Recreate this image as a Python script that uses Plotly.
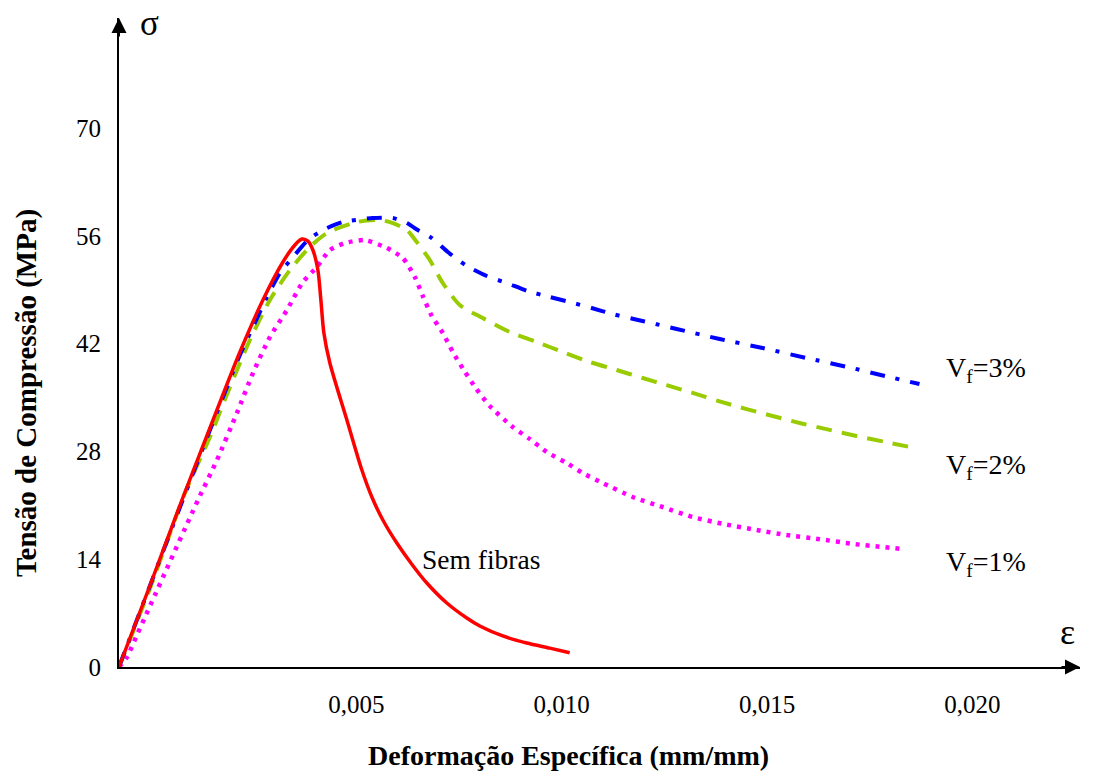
import plotly.graph_objects as go

# ---- data (strain in mm/mm, stress in MPa) ----
sem_x = [-0.00078, -0.00002, 0.000754, 0.001435, 0.002165, 0.002725, 0.003212, 0.003504,
         0.003674, 0.00382, 0.003941, 0.004063, 0.004136, 0.004209, 0.004355, 0.004769,
         0.005134, 0.005377, 0.005645, 0.005985, 0.00635, 0.006715, 0.007202, 0.007688,
         0.008005, 0.008564, 0.009148, 0.009708, 0.010194]
sem_y = [0, 10.65, 21.69, 31.04, 40.91, 47.66, 52.60, 54.81,
         55.58, 55.32, 54.16, 51.56, 47.66, 43.38, 39.48, 32.08,
         25.58, 22.08, 19.09, 16.10, 13.35, 10.91, 8.31, 6.36,
         5.32, 4.03, 3.12, 2.45, 1.85]

vf3_x = [-0.00078, 0.000754, 0.001435, 0.002165, 0.002482, 0.002822, 0.003139, 0.003479,
         0.00382, 0.004185, 0.004671, 0.005401, 0.005888, 0.006228, 0.006496, 0.006837,
         0.007226, 0.007688, 0.008175, 0.008661, 0.009172, 0.009708, 0.010194, 0.010729,
         0.011241, 0.011751, 0.012287, 0.012798, 0.013844, 0.01489, 0.01596, 0.016958,
         0.01798, 0.01871]
vf3_y = [0, 21.43, 30.78, 40.52, 44.16, 48.05, 51.17, 53.38,
         55.45, 56.75, 57.79, 58.31, 58.31, 57.66, 56.75, 55.71,
         53.90, 52.08, 50.78, 49.87, 48.83, 48.05, 47.40, 46.62,
         45.84, 45.19, 44.55, 43.90, 42.60, 41.43, 40.13, 38.96,
         37.66, 36.75]

vf2_x = [-0.00078, -0.00002, 0.000827, 0.001435, 0.001922, 0.002409, 0.002895, 0.003382,
         0.003868, 0.004282, 0.005012, 0.005572, 0.005888, 0.006228, 0.006472, 0.006788,
         0.007104, 0.007518, 0.008078, 0.008734, 0.009391, 0.010024, 0.010681, 0.011338,
         0.01197, 0.012554, 0.013187, 0.013844, 0.014501, 0.015133, 0.015863, 0.01652,
         0.017177, 0.01781, 0.01854]
vf2_y = [0, 10.26, 22.60, 29.87, 36.36, 42.47, 47.66, 51.56,
         54.55, 56.36, 57.79, 58.05, 57.66, 56.75, 55.19, 52.86,
         49.87, 47.01, 45.32, 43.51, 42.21, 40.91, 39.61, 38.57,
         37.53, 36.60, 35.60, 34.50, 33.50, 32.60, 31.60, 30.80,
         30.00, 29.30, 28.50]

vf1_x = [-0.00078, -0.000584, -0.000341, -0.000146, 0.001144, 0.001606, 0.002092, 0.002482,
         0.002895, 0.003309, 0.003698, 0.004039, 0.004355, 0.00472, 0.005207, 0.005742,
         0.006131, 0.006423, 0.006618, 0.006837, 0.007104, 0.007348, 0.007615, 0.007907,
         0.008248, 0.008807, 0.009221, 0.009635, 0.010121, 0.010511, 0.010997, 0.011727,
         0.012457, 0.013187, 0.013917, 0.014744, 0.015474, 0.016277, 0.01708, 0.018297]
vf1_y = [0, 1.30, 4.16, 6.49, 21.69, 26.88, 32.99, 38.18,
         42.86, 46.36, 50.00, 51.95, 54.16, 55.06, 55.45, 54.42,
         53.12, 50.65, 48.18, 45.58, 43.38, 40.91, 38.57, 36.23,
         33.90, 31.17, 29.61, 27.92, 26.49, 25.19, 23.90, 22.08,
         20.78, 19.48, 18.60, 17.79, 17.14, 16.60, 16.00, 15.32]

x_tickvals = [0.005, 0.010, 0.015, 0.020]
y_tickvals = [0, 14, 28, 42, 56, 70]

SERIF = "Liberation Serif, Times New Roman, serif"

fig = go.Figure()
fig.add_trace(go.Scatter(x=vf1_x, y=vf1_y, mode="lines", name="Vf=1%",
                         line=dict(color="#FF00FF", width=4.5, dash="4px,6px", shape="spline", smoothing=0.6)))
fig.add_trace(go.Scatter(x=vf2_x, y=vf2_y, mode="lines", name="Vf=2%",
                         line=dict(color="#99CC00", width=4, dash="16px,10px", shape="spline", smoothing=0.7)))
fig.add_trace(go.Scatter(x=vf3_x, y=vf3_y, mode="lines", name="Vf=3%",
                         line=dict(color="#0000FF", width=4, dash="15px,11px,4px,11px", shape="spline", smoothing=0.6)))
fig.add_trace(go.Scatter(x=sem_x, y=sem_y, mode="lines", name="Sem fibras",
                         line=dict(color="#FF0000", width=3.5, shape="spline", smoothing=0.8)))

annotations = [
    # axis arrowheads
    dict(x=1, y=0, xref="paper", yref="paper", ax=-20, ay=0, text="", showarrow=True,
         arrowhead=2, arrowsize=1.5, arrowwidth=2, arrowcolor="black"),
    dict(x=0, y=1, xref="paper", yref="paper", ax=0, ay=20, text="", showarrow=True,
         arrowhead=2, arrowsize=1.5, arrowwidth=2, arrowcolor="black"),
    # axis symbols
    dict(x=0.032, y=0.992, xref="paper", yref="paper", text="σ", showarrow=False,
         xanchor="center", yanchor="middle", font=dict(family=SERIF, size=35, color="black")),
    dict(x=0.987, y=0.054, xref="paper", yref="paper", text="ε", showarrow=False,
         xanchor="center", yanchor="middle", font=dict(family=SERIF, size=36, color="black")),
    # axis titles
    dict(x=-0.0968, y=0.422, xref="paper", yref="paper", text="<b>Tensão de Compressão (MPa)</b>",
         textangle=-90, showarrow=False, xanchor="center", yanchor="middle",
         font=dict(family=SERIF, size=29, color="black")),
    dict(x=0.468, y=-0.136, xref="paper", yref="paper", text="<b>Deformação Específica (mm/mm)</b>",
         showarrow=False, xanchor="center", yanchor="middle",
         font=dict(family=SERIF, size=28, color="black")),
    # curve labels
    dict(x=0.00655, y=13.9, xref="x", yref="y", text="Sem fibras", showarrow=False,
         xanchor="left", yanchor="middle", font=dict(family=SERIF, size=27.5, color="black")),
    dict(x=0.0193, y=38.7, xref="x", yref="y", text="V<sub>f</sub>=3%", showarrow=False,
         xanchor="left", yanchor="middle", font=dict(family=SERIF, size=28, color="black")),
    dict(x=0.0193, y=26.1, xref="x", yref="y", text="V<sub>f</sub>=2%", showarrow=False,
         xanchor="left", yanchor="middle", font=dict(family=SERIF, size=28, color="black")),
    dict(x=0.0193, y=13.5, xref="x", yref="y", text="V<sub>f</sub>=1%", showarrow=False,
         xanchor="left", yanchor="middle", font=dict(family=SERIF, size=28, color="black")),
]

fig.update_layout(
    width=1093, height=772,
    margin=dict(l=119, r=13, t=18, b=105),
    paper_bgcolor="white", plot_bgcolor="white",
    showlegend=False,
    separators=",.",
    font=dict(family=SERIF, size=25, color="black"),
    annotations=annotations,
    xaxis=dict(range=[-0.000779, 0.022618], tickvals=x_tickvals, tickformat=".3f",
               showgrid=False, zeroline=False, showline=True, linecolor="black", linewidth=2,
               ticks="", ticklabelstandoff=14, tickfont=dict(family=SERIF, size=25, color="black")),
    yaxis=dict(range=[0, 84.29], tickvals=y_tickvals,
               showgrid=False, zeroline=False, showline=True, linecolor="black", linewidth=2,
               ticks="", ticklabelstandoff=11, tickfont=dict(family=SERIF, size=25, color="black")),
)

fig.write_html("out.html")
